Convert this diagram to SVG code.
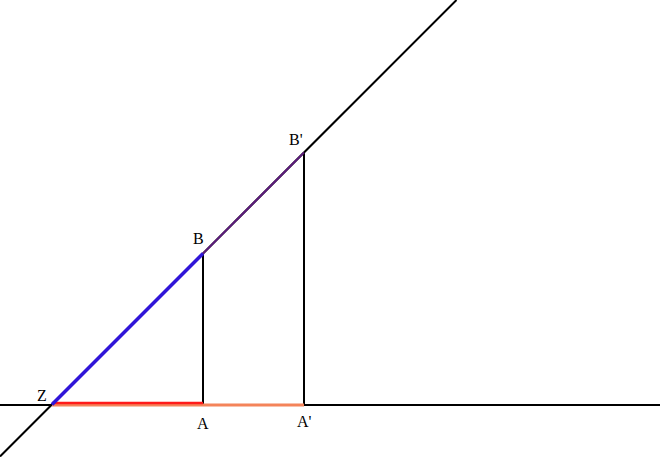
<svg xmlns="http://www.w3.org/2000/svg" width="660" height="457" viewBox="0 0 660 457">
<style>
text{font-family:"Liberation Serif","DejaVu Serif",serif;font-size:16px;fill:#000}
.k{stroke:#000;stroke-width:2;fill:none}
</style>
<rect width="660" height="457" fill="#fff"/>
<g id="connectors">
<line class="k" x1="0" y1="405" x2="660" y2="405"/>
<line class="k" x1="0" y1="456.5" x2="456.5" y2="0"/>
<line class="k" x1="203" y1="253" x2="203" y2="404"/>
<line class="k" x1="304" y1="152.5" x2="304" y2="405"/>
<line x1="52" y1="405" x2="304" y2="405" stroke="#f4845a" stroke-width="3"/>
<line x1="52" y1="403" x2="203" y2="403" stroke="#ff1a1a" stroke-width="2.5"/>
<line x1="52" y1="404.5" x2="304" y2="152.5" stroke="#5a1a7a" stroke-width="2"/>
<line x1="52" y1="404.5" x2="203" y2="253.5" stroke="#3015d8" stroke-width="3.5"/>
</g>
<g id="Z"><text x="37" y="401">Z</text></g>
<g id="A"><text x="197" y="429">A</text></g>
<g id="Ap"><text x="297" y="427">A'</text></g>
<g id="B"><text x="193" y="244">B</text></g>
<g id="Bp"><text x="289" y="145">B'</text></g>
</svg>
